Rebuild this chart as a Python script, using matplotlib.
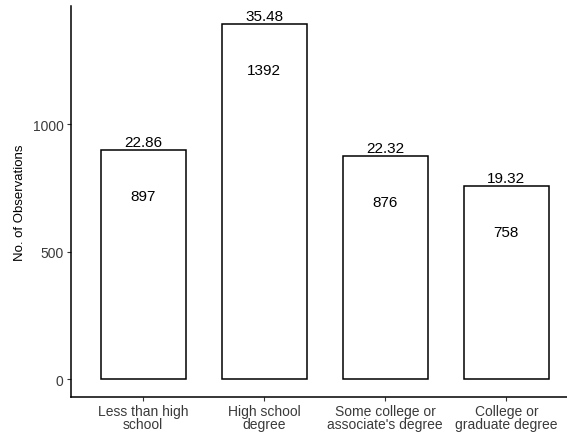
import matplotlib
matplotlib.use("Agg")
import matplotlib.pyplot as plt

categories = ["Less than high\nschool", "High school\ndegree",
              "Some college or\nassociate's degree", "College or\ngraduate degree"]
counts = [897, 1392, 876, 758]
percents = ["22.86", "35.48", "22.32", "19.32"]

plt.rcParams['font.family'] = ['Liberation Sans', 'DejaVu Sans']

W, H = 567, 435
fig = plt.figure(figsize=(W / 100, H / 100), dpi=100)
left, right, top, bottom = 70.5, 579.0, 7.3, 398.0
ax = fig.add_axes([left / W, (H - bottom) / H, (right - left) / W, (bottom - top) / H])

x = list(range(1, len(categories) + 1))
ax.bar(x, counts, width=0.7, color="white", edgecolor="black", linewidth=1.1)

for xi, c, p in zip(x, counts, percents):
    ax.annotate(p, (xi, c), xytext=(0, 0.8), textcoords="offset points",
                ha="center", va="bottom", fontsize=11, color="black")
    ax.annotate(str(c), (xi, c), xytext=(0, -33), textcoords="offset points",
                ha="center", va="center", fontsize=11, color="black")

ymax = max(counts)
ax.set_ylim(-0.05 * ymax, ymax * 1.05)
ax.set_xlim(0.4, len(categories) + 0.6)
ax.set_xticks(x)
ax.set_xticklabels(categories, fontsize=10, color="#3A3A3A", linespacing=0.9)
ax.set_yticks([0, 500, 1000])
ax.set_yticklabels(["0", "500", "1000"], fontsize=10, color="#3A3A3A")
ax.set_ylabel("No. of Observations", fontsize=9.5, color="black", labelpad=5)

for s in ["top", "right"]:
    ax.spines[s].set_visible(False)
for s in ["left", "bottom"]:
    ax.spines[s].set_linewidth(1.1)
    ax.spines[s].set_color("black")
ax.tick_params(axis="both", length=3, width=0.8, color="#333333", pad=2)

fig.savefig("out.png", dpi=100)
